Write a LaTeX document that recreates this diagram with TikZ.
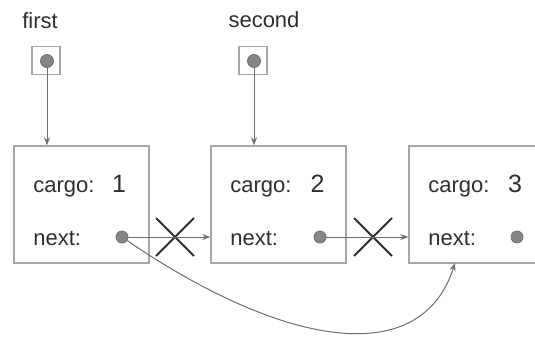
\documentclass[tikz,border=0pt]{standalone}
\usepackage{fontspec}
\setmainfont{Liberation Sans}
\usepackage{tikz}
\usetikzlibrary{positioning,arrows.meta,shapes.misc}

\definecolor{boxgray}{HTML}{A6A6A6}
\definecolor{linegray}{HTML}{6E6E6E}
\definecolor{dotgray}{HTML}{858585}
\definecolor{inkdark}{HTML}{2E2E2E}

\begin{document}
\begin{tikzpicture}[x=0.5pt, y=-0.5pt, >={Stealth[length=4pt,width=3pt]},
    listbox/.style={draw=boxgray, line width=0.7pt, minimum width=67.5pt, minimum height=58.5pt, inner sep=0pt},
    ptrbox/.style={draw=boxgray, line width=0.7pt, minimum size=14pt, inner sep=0pt},
    dot/.style={circle, draw=linegray, fill=dotgray, line width=0.4pt, minimum size=6pt, inner sep=0pt},
    lbl/.style={font=\fontsize{11}{13}\selectfont, inner sep=0pt, text=inkdark},
    val/.style={font=\fontsize{12.5}{15}\selectfont, inner sep=0pt, text=inkdark},
    link/.style={->, draw=linegray, line width=0.5pt},
    cut/.style={cross out, draw=inkdark, line width=1pt, minimum size=18pt, inner sep=0pt}]
        \useasboundingbox (0,0) rectangle (535,337);

        % Variables
        \node[lbl, anchor=base] (first) at (40,28) {first};
        \node[ptrbox] (pfirst) at (46,60.5) {};
        \node[dot, minimum size=6.5pt] (pdot1) at (47,61) {};

        \node[lbl, anchor=base] (second) at (264,27) {second};
        \node[ptrbox] (psecond) at (253,60.5) {};
        \node[dot, minimum size=6.5pt] (pdot2) at (254,61) {};

        % Nodes of the list
        \node[listbox] (box1) at (81.5,204.5) {};
        \node[listbox] (box2) at (278.5,204.5) {};
        \node[listbox] (box3) at (476.5,204.5) {};

        % Fields
        \node[lbl, anchor=base west] (cargo1) at (33,192) {cargo:};
        \node[val, anchor=base] (val1) at (119,192) {1};
        \node[lbl, anchor=base west] (next1) at (33,245) {next:};
        \node[dot] (dot1) at (122,237) {};

        \node[lbl, anchor=base west] (cargo2) at (230,192) {cargo:};
        \node[val, anchor=base] (val2) at (317.5,192) {2};
        \node[lbl, anchor=base west] (next2) at (230,245) {next:};
        \node[dot] (dot2) at (320,237) {};

        \node[lbl, anchor=base west] (cargo3) at (428,192) {cargo:};
        \node[val, anchor=base] (val3) at (515,192) {3};
        \node[lbl, anchor=base west] (next3) at (428,245) {next:};
        \node[dot] (dot3) at (517,237) {};

        % Removed links
        \node[cut] (cut1) at (175,237) {};
        \node[cut] (cut2) at (373,237) {};

        % Connections
        \draw[link] (pdot1) -- (pdot1 |- box1.north);
        \draw[link] (pdot2) -- (pdot2 |- box2.north);
        \draw[link] (dot1) -- (dot1 -| box2.west);
        \draw[link] (dot2) -- (dot2 -| box3.west);

        \coordinate (land) at (455,263);
        \draw[link] (dot1) .. controls (280,345) and (420,372) .. (land);

        \end{tikzpicture}
\end{document}
